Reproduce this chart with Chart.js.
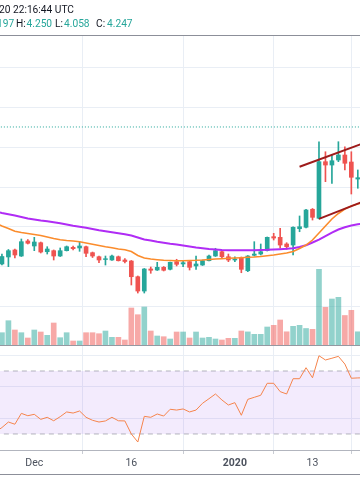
<!DOCTYPE html>
<html>
<head>
<meta charset="utf-8">
<script src="https://cdn.jsdelivr.net/npm/chart.js@4.4.1/dist/chart.umd.min.js"></script>
<style>
html,body{margin:0;padding:0;background:#fff;width:360px;height:504px;overflow:hidden;}
#wrap{position:relative;width:360px;height:504px;}
canvas{position:absolute;left:0;top:0;}
.hdr{position:absolute;font-family:Roboto,sans-serif;font-size:10.2px;color:#131722;white-space:nowrap;line-height:13px;}
.v{color:#26a69a;}
</style>
</head>
<body>
<div id="wrap">
<canvas id="c" width="360" height="504"></canvas>
<div class="hdr" style="top:3px;left:-1px">20 22:16:44 UTC</div>
<div class="hdr v" style="top:17px;left:-3px">197</div>
<div class="hdr" style="top:17px;left:16px">H:</div>
<div class="hdr v" style="top:17px;left:26.5px">4.250</div>
<div class="hdr" style="top:17px;left:55px">L:</div>
<div class="hdr v" style="top:17px;left:64px">4.058</div>
<div class="hdr" style="top:17px;left:96px">C:</div>
<div class="hdr v" style="top:17px;left:107px">4.247</div>
</div>
<script>
// ---------- DATA ----------
const candleDates = ['2019-11-26','2019-11-27','2019-11-28','2019-11-29','2019-11-30',
'2019-12-01','2019-12-02','2019-12-03','2019-12-04','2019-12-05','2019-12-06','2019-12-07','2019-12-08','2019-12-09','2019-12-10',
'2019-12-11','2019-12-12','2019-12-13','2019-12-14','2019-12-15','2019-12-16','2019-12-17','2019-12-18','2019-12-19','2019-12-20',
'2019-12-21','2019-12-22','2019-12-23','2019-12-24','2019-12-25','2019-12-26','2019-12-27','2019-12-28','2019-12-29','2019-12-30',
'2019-12-31','2020-01-01','2020-01-02','2020-01-03','2020-01-04','2020-01-05','2020-01-06','2020-01-07','2020-01-08','2020-01-09',
'2020-01-10','2020-01-11','2020-01-12','2020-01-13','2020-01-14','2020-01-15','2020-01-16','2020-01-17','2020-01-18','2020-01-19',
'2020-01-20'];
const open  = [3.033,3.121,3.209,3.133,3.322, 3.259,3.300,3.187,3.200,3.133,3.200,3.242,3.234,3.250,3.175,
3.124,3.089,3.083,3.124,3.083,3.070,2.873,2.693,2.970,2.957, 2.991,2.966,3.062,3.033,3.062,3.008,3.020,3.074,3.133,3.187,
3.124,3.083,3.112,2.948,3.142,3.158,3.200,3.376,3.368,3.284, 3.271,3.476,3.494,3.720,3.607,4.318,4.276,4.339,4.402,4.314, 4.100];
const high  = [3.158,3.215,3.221,3.347,3.340, 3.368,3.309,3.250,3.209,3.234,3.259,3.259,3.309,3.259,3.183,
3.133,3.133,3.146,3.133,3.102,3.077,2.882,2.976,2.995,3.054, 3.001,3.058,3.092,3.074,3.070,3.133,3.083,3.146,3.230,3.196,
3.158,3.124,3.121,3.139,3.313,3.284,3.372,3.418,3.481,3.300, 3.501,3.636,3.720,3.730,4.569,4.443,4.402,4.569,4.506,4.443, 4.214];
const low   = [3.020,2.999,3.108,3.127,3.284, 3.200,3.171,3.158,3.083,3.127,3.196,3.209,3.192,3.124,3.114,
3.049,3.020,3.077,3.070,3.045,2.769,2.668,2.668,2.916,2.951, 2.945,2.957,3.008,2.999,2.957,2.966,3.014,3.070,3.127,3.104,
3.062,3.062,2.923,2.936,3.133,3.146,3.196,3.334,3.230,3.217, 3.146,3.438,3.485,3.585,3.598,4.067,4.046,4.318,4.214,3.912, 3.984];
const close = [3.127,3.200,3.146,3.313,3.293, 3.309,3.183,3.221,3.133,3.200,3.250,3.225,3.259,3.167,3.133,
3.083,3.099,3.133,3.074,3.064,2.873,2.693,2.970,2.954,2.991, 2.954,3.054,3.029,3.049,2.991,3.033,3.074,3.133,3.200,3.124,
3.083,3.095,2.966,3.133,3.158,3.187,3.368,3.359,3.271,3.250, 3.494,3.501,3.711,3.619,4.318,4.276,4.330,4.402,4.298,4.122, 4.117];
const volume = [1.23,2.43,1.50,1.23,0.70, 1.50,1.30,0.97,2.20,0.73,1.23,0.40,0.40,1.23,1.23,
1.13,1.40,0.77,0.77,0.50,3.70,3.03,3.80,1.40,0.90, 0.83,0.60,1.30,1.30,0.70,1.30,0.70,0.77,0.60,0.50,
0.67,0.67,1.40,1.31,1.07,1.07,1.80,1.97,2.50,1.32, 1.87,1.97,1.65,1.57,7.57,3.77,4.60,4.77,2.95,3.47, 1.32];

const lineDates = ['2019-11-25'].concat(candleDates, ['2020-01-21']);
const maSlow = [3.692,3.673,3.657,3.642,3.623,3.604, 3.592,3.579,3.569,3.557,3.544,3.529,3.514,3.501,3.487,3.472,
3.456,3.443,3.431,3.418,3.406,3.391,3.366,3.340,3.328,3.313, 3.300,3.288,3.278,3.265,3.253,3.240,3.230,3.221,3.215,3.209,
3.206,3.205,3.205,3.205,3.206,3.209,3.211,3.215,3.219,3.224, 3.231,3.246,3.269,3.303,3.340,3.384,3.428,3.466,3.494,3.516, 3.531,3.541];
const maFast = [3.548,3.510,3.479,3.443,3.428,3.416, 3.403,3.391,3.372,3.353,3.338,3.328,3.322,3.313,3.296,3.280,
3.265,3.249,3.236,3.221,3.211,3.190,3.139,3.108,3.095,3.087, 3.080,3.077,3.074,3.074,3.077,3.079,3.083,3.089,3.095,3.099,
3.104,3.108,3.112,3.117,3.121,3.127,3.136,3.146,3.158,3.171, 3.190,3.227,3.271,3.334,3.422,3.510,3.598,3.667,3.724,3.761, 3.786,3.805];
const rsi = [31.3,34.1,37.6,36.2,43.1,41.6, 42.5,39.3,40.6,38.4,41.0,44.0,43.3,44.6,40.6,38.7,
37.6,38.3,40.6,38.4,38.3,30.0,24.9,41.2,40.6,42.7, 41.4,45.7,45.2,45.9,44.0,45.2,49.5,52.4,55.4,51.6,
48.4,49.9,41.9,52.0,53.3,54.6,62.2,62.2,56.9,55.4, 65.1,65.1,72.1,65.7,79.7,77.0,78.1,79.3,74.4,65.4, 65.6,65.7];
const rsiBands = [70, 30];

const trendUpperDates = ['2020-01-11','2020-01-20T24'];
const trendUpper = [4.254, 4.554];
const trendLowerDates = ['2020-01-14','2020-01-20T24'];
const trendLower = [3.600, 3.823];
const priceLine = 4.754;

const tickDates  = ['2019-12-01','2019-12-16','2020-01-01','2020-01-13'];
const tickLabels = ['Dec','16','2020','13'];
const priceGrid = [2.5,3.0,3.5,4.0,4.5,5.0,5.5];
const rsiGrid = [40,60,80];

// ---------- helpers ----------
const DAY0 = Date.UTC(2019,11,1);
function toDay(s){
  if (s.endsWith('T24')) return toDay(s.slice(0,10)) + 1;
  return (Date.parse(s + 'T00:00:00Z') - DAY0) / 86400000;
}
const cx = candleDates.map(toDay);
const lx = lineDates.map(toDay);
const isUp = close.map((c,i) => c >= open[i]);
const UP = '#26a69a', DN = '#ef5350';
const UPV = 'rgba(38,166,154,0.5)', DNV = 'rgba(239,83,80,0.5)';
const tickDays = tickDates.map(toDay);
const GRID = '#e9eef5';

const decor = {
  id: 'decor',
  afterDraw(chart){
    const c = chart.ctx;
    c.save();
    c.fillStyle = '#8c8f99';
    c.fillRect(0, 35, 360, 1);
    const y0 = Math.round(chart.scales.yv.getPixelForValue(0));
    c.fillStyle = '#9598a1';
    c.fillRect(0, y0, 360, 1);
    c.fillStyle = '#8c8f99';
    c.fillRect(0, 474, 360, 1);
    c.restore();
  }
};

Chart.defaults.font.family = 'Roboto';

new Chart(document.getElementById('c'), {
  type: 'bar',
  data: {
    datasets: [
      { type:'line', label:'rsi70', yAxisID:'yr', data: [{x:-20,y:rsiBands[0]},{x:70,y:rsiBands[0]}],
        borderColor:'rgba(120,123,134,0.55)', borderWidth:1, borderDash:[5,4], pointRadius:0,
        fill:'+1', backgroundColor:'rgba(149,76,233,0.11)', order:20 },
      { type:'line', label:'rsi30', yAxisID:'yr', data: [{x:-20,y:rsiBands[1]},{x:70,y:rsiBands[1]}],
        borderColor:'rgba(120,123,134,0.55)', borderWidth:1, borderDash:[5,4], pointRadius:0, fill:false, order:19 },
      { label:'volume', yAxisID:'yv', data: cx.map((x,i)=>({x, y: volume[i]})),
        backgroundColor: isUp.map(u => u ? UPV : DNV), barThickness:5, grouped:false, order:15 },
      { type:'line', label:'price', yAxisID:'y', data: [{x:-20,y:priceLine},{x:70,y:priceLine}],
        borderColor:UP, borderWidth:1, borderDash:[1,2], pointRadius:0, fill:false, order:14 },
      { label:'wick', yAxisID:'y', data: cx.map((x,i)=>({x, y:[low[i], high[i]]})),
        backgroundColor: isUp.map(u => u ? UP : DN), barThickness:1, grouped:false, order:10 },
      { label:'body', yAxisID:'y', data: cx.map((x,i)=>({x, y:[open[i], close[i]]})),
        backgroundColor: isUp.map(u => u ? UP : DN), barThickness:4, grouped:false, order:9 },
      { type:'line', label:'maSlow', yAxisID:'y', data: lx.map((x,i)=>({x, y:maSlow[i]})),
        borderColor:'#b02cf5', borderWidth:2, pointRadius:0, tension:0, fill:false, order:6 },
      { type:'line', label:'maFast', yAxisID:'y', data: lx.map((x,i)=>({x, y:maFast[i]})),
        borderColor:'#fb8c2c', borderWidth:1.6, pointRadius:0, tension:0, fill:false, order:5 },
      { type:'line', label:'trendUpper', yAxisID:'y', data: trendUpperDates.map((d,i)=>({x:toDay(d), y:trendUpper[i]})),
        borderColor:'#9e1b1b', borderWidth:2, pointRadius:0, fill:false, order:3 },
      { type:'line', label:'trendLower', yAxisID:'y', data: trendLowerDates.map((d,i)=>({x:toDay(d), y:trendLower[i]})),
        borderColor:'#9e1b1b', borderWidth:2, pointRadius:0, fill:false, order:3 },
      { type:'line', label:'rsi', yAxisID:'yr', data: lx.map((x,i)=>({x, y:rsi[i]})),
        borderColor:'#f5844c', borderWidth:1, pointRadius:0, tension:0, fill:false, order:2 }
    ]
  },
  options: {
    responsive:false, animation:false, devicePixelRatio:1,
    layout:{ padding:{ top:36, bottom:30, left:0, right:0 } },
    plugins:{ legend:{display:false}, tooltip:{enabled:false} },
    scales:{
      x:{ type:'linear', position:'bottom', min:-5.3, max:50.34, offset:false,
        afterBuildTicks: s => { s.ticks = tickDays.map(v => ({value:v})); },
        afterFit: s => { s.height = 24; },
        grid:{ color:GRID, tickLength:4, tickColor:'#c9ccd3' },
        border:{ display:true, color:'#b2b5be' },
        ticks:{ padding:3, maxRotation:0, autoSkip:false, color:'#4c525e',
          callback: (v) => { const k = tickDays.indexOf(v); return k >= 0 ? tickLabels[k] : ''; },
          font: (ctx) => ({ family:'Roboto', size:10.5, weight: (ctx.tick && ctx.tick.value === tickDays[2]) ? 'bold' : 'normal' }) } },
      y:{ type:'linear', position:'left', min:0.696, max:5.897,
        afterBuildTicks: s => { s.ticks = priceGrid.map(v => ({value:v})); },
        grid:{ color:GRID, drawTicks:false }, border:{display:false}, ticks:{display:false} },
      yv:{ type:'linear', position:'left', min:-10.5, max:30.9,
        grid:{ display:false, drawTicks:false }, border:{display:false}, ticks:{display:false} },
      yr:{ type:'linear', position:'left', min:19.84, max:282.7,
        afterBuildTicks: s => { s.ticks = rsiGrid.map(v => ({value:v})); },
        grid:{ color:GRID, drawTicks:false }, border:{display:false}, ticks:{display:false} }
    }
  },
  plugins:[decor]
});
</script>
</body>
</html>
